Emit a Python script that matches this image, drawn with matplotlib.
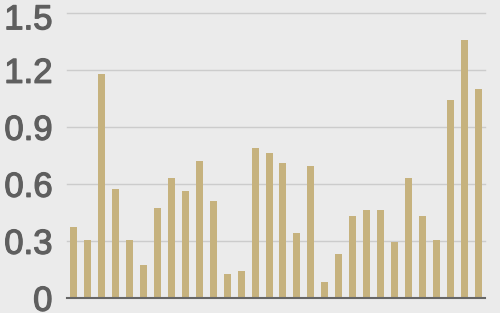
import matplotlib
matplotlib.use("Agg")
import matplotlib.pyplot as plt
import matplotlib.transforms as mtransforms
import matplotlib.patheffects as pe
import numpy as np

values = [0.375, 0.309, 1.182, 0.575, 0.309, 0.175, 0.475, 0.633, 0.565, 0.723,
          0.512, 0.128, 0.144, 0.791, 0.765, 0.712, 0.344, 0.696, 0.086, 0.233,
          0.433, 0.465, 0.465, 0.296, 0.633, 0.433, 0.307, 1.044, 1.360, 1.102]
yticks = [0, 0.3, 0.6, 0.9, 1.2, 1.5]
ytick_labels = ["0", "0.3", "0.6", "0.9", "1.2", "1.5"]

bg = "#ebebeb"
fig = plt.figure(figsize=(5, 3.13), dpi=100, facecolor=bg)
ax = fig.add_axes([0.134, 0.047, 0.836, 0.9105], facecolor=bg)

x = np.arange(len(values))
ax.bar(x, values, width=0.5, color="#c6b27e", zorder=3)
ax.set_xlim(-0.5, len(values) - 0.5)
ax.set_ylim(0, 1.5)

for t in yticks[1:]:
    ax.axhline(t, color="#cccccc", lw=1, zorder=1, clip_on=False)
ax.axhline(0, color="#666666", lw=1.5, zorder=4, clip_on=False)

ax.set_yticks([])
ax.set_xticks([])
for s in ax.spines.values():
    s.set_visible(False)

ytrans = mtransforms.blended_transform_factory(fig.transFigure, ax.transData)
for t, lab in zip(yticks, ytick_labels):
    shift_px = 12.5 if t < 1.5 else 16.0
    tr = ytrans + mtransforms.ScaledTranslation(0, -shift_px / 100, fig.dpi_scale_trans)
    ax.text(52.5 / 500, t, lab, transform=tr, ha="right", va="baseline",
            fontfamily="Liberation Sans", fontsize=25, color="#5f5f5f",
            path_effects=[pe.withStroke(linewidth=0.9, foreground="#5f5f5f")],
            clip_on=False)

fig.savefig("out.png", dpi=100, facecolor=bg)
